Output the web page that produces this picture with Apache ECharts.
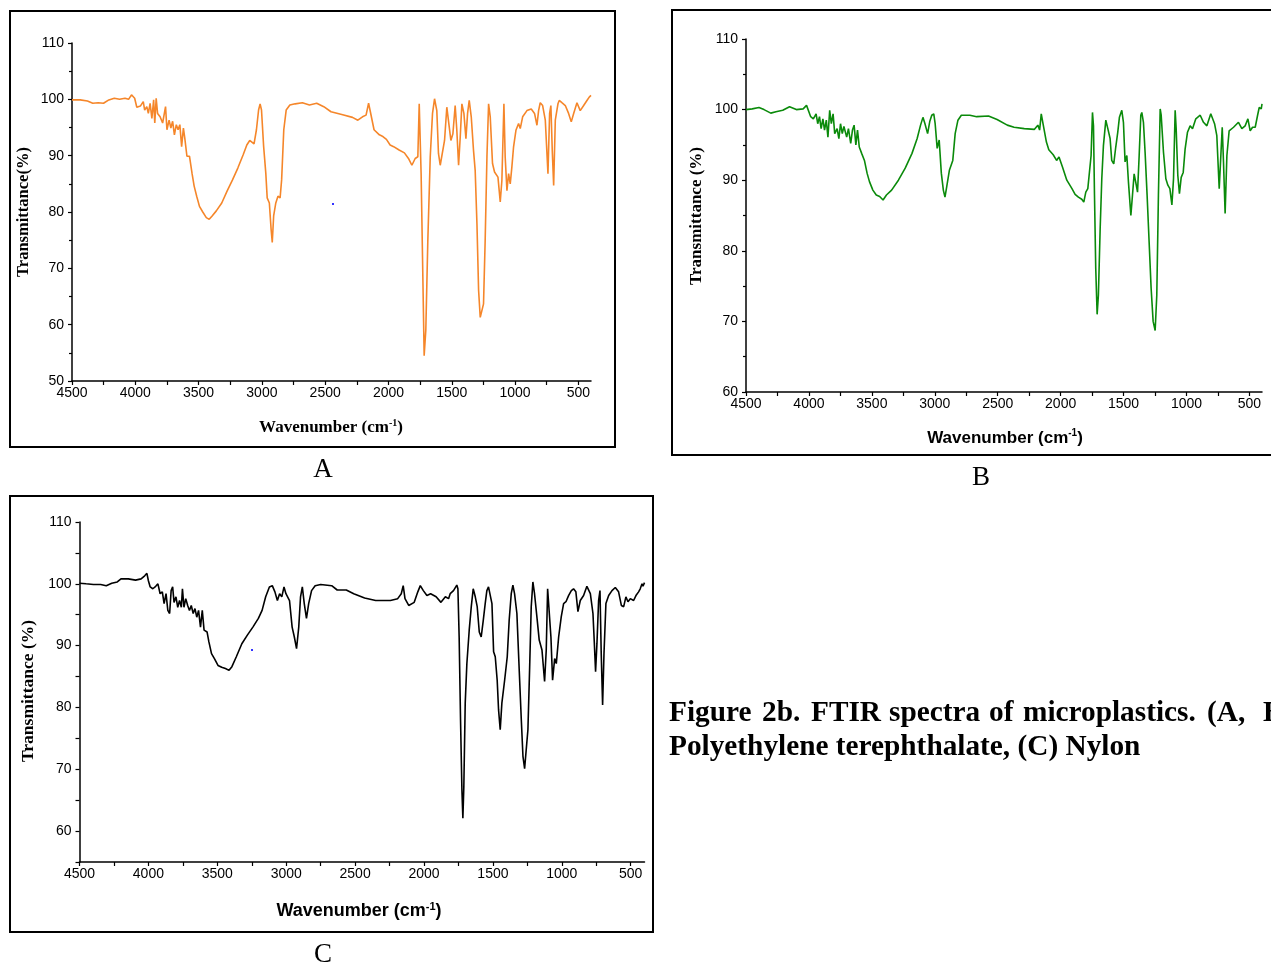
<!DOCTYPE html>
<html>
<head>
<meta charset="utf-8">
<script src="https://cdn.jsdelivr.net/npm/echarts@6/dist/echarts.min.js"></script>
<style>
html,body{margin:0;padding:0;background:#fff;}
#chart{width:1271px;height:967px;}
</style>
</head>
<body>
<div id="chart"></div>
<script>
// ---- Data ----
const wnA = [4500,4435,4378,4336,4293,4251,4209,4166,4124,4081,4053,4030,4016,4005,3988,3960,3937,3926,3909,3897,3883,3869,3855,3846,3835,3824,3804,3784,3761,3750,3733,3719,3705,3691,3676,3662,3648,3634,3620,3609,3592,3572,3552,3535,3515,3493,3467,3439,3416,3393,3360,3317,3275,3232,3190,3147,3119,3096,3062,3043,3026,3014,3003,2986,2969,2958,2941,2927,2918,2907,2890,2873,2856,2844,2827,2808,2779,2737,2680,2624,2567,2511,2454,2369,2284,2242,2205,2177,2157,2143,2114,2072,2044,2016,1987,1959,1916,1874,1842,1815,1789,1768,1757,1749,1742,1731,1718,1705,1689,1670,1652,1636,1618,1605,1591,1578,1557,1539,1525,1507,1491,1473,1460,1446,1433,1420,1404,1388,1375,1362,1346,1328,1315,1301,1288,1275,1262,1249,1236,1222,1209,1196,1178,1162,1149,1135,1117,1104,1088,1078,1064,1051,1038,1025,1012,993,972,959,940,906,872,846,827,814,801,782,761,740,727,717,706,695,682,661,651,630,603,577,556,537,511,485,458,432,414,400];
const tA = [99.9,99.9,99.7,99.3,99.4,99.3,99.9,100.2,100,100.2,100,100.8,101.1,100.2,98.6,98.8,99.6,98.1,98.7,97.5,99.3,96.6,99.9,95.8,100.2,97.5,96.9,95.8,98.7,94.6,96.3,94.9,96.1,93.7,95.5,94.6,95.5,91.6,94.9,93.1,89.9,89.9,86.9,84.6,82.8,81,80,79,78.7,79.3,80.2,81.6,83.7,85.7,87.8,90.2,91.9,92.7,92.1,94.6,98.1,99.2,98.1,91.6,86.9,82.5,81.6,76.9,74.6,79.3,81.6,82.8,82.5,85.7,94.6,98.1,99,99.2,99.4,99,99.3,98.7,97.8,97.3,96.8,96.3,96.9,97.2,99.3,97.8,94.6,93.7,93.4,92.9,91.9,91.6,91,90.5,89.5,88.3,89.5,89.8,99.2,99.5,86.8,72,54.5,59,75,89.8,97.5,100.1,98,90.4,88.3,88.3,92.7,98.6,98.9,92.7,93.9,98.9,94.5,88.3,93.3,99.2,97.5,93,97.5,99.8,96.9,90.9,87.4,77.9,66.1,61.3,61,63.7,75,89.8,99.2,96.9,88.6,87.1,87.4,86.2,81.8,85.6,99.2,89.8,83.8,86.8,85,88,91.5,94.5,95.7,94.8,96.9,98,98.3,97.5,95.4,98,99.4,98.9,96.3,86.8,97.5,98.9,90.9,84.7,96.3,99.2,99.8,99.4,98.9,97.5,96,97.5,99.4,98,98.9,99.8,100.4,100.7];

const wnB = [4500,4451,4397,4357,4303,4262,4208,4154,4100,4046,4019,4005,3986,3965,3943,3930,3916,3903,3889,3876,3862,3849,3835,3822,3808,3795,3776,3762,3749,3735,3722,3700,3686,3668,3654,3641,3627,3614,3600,3581,3559,3538,3519,3492,3465,3438,3411,3384,3343,3289,3235,3181,3140,3113,3094,3078,3057,3040,3024,3008,2997,2981,2965,2948,2932,2919,2905,2884,2857,2838,2816,2789,2721,2667,2573,2505,2424,2370,2289,2208,2181,2167,2154,2140,2113,2094,2059,2032,2013,1986,1951,1910,1885,1859,1832,1816,1800,1784,1774,1758,1747,1739,1731,1721,1710,1700,1686,1673,1660,1641,1625,1607,1594,1578,1562,1546,1533,1514,1501,1488,1474,1461,1442,1429,1416,1403,1389,1376,1363,1355,1342,1329,1313,1297,1281,1265,1249,1236,1223,1209,1201,1183,1164,1148,1132,1116,1103,1090,1082,1069,1056,1042,1026,1011,992,971,952,926,891,865,838,807,777,759,740,727,716,706,693,679,661,626,587,560,534,512,494,475,454,435,422,406,400];
const tB = [100,100.1,100.3,100,99.5,99.7,99.9,100.4,100,100.1,100.6,100.8,99,98.7,99.4,98,99,97.3,98.7,97.1,98.5,96.1,99.9,98,99.4,96.6,97.3,95.9,98,96.6,97.6,96.1,97.3,95.2,97.1,97.8,95,97.1,94.7,93.8,92.8,91,89.8,88.6,87.9,87.7,87.2,87.9,88.6,90,91.7,93.8,95.9,97.8,98.9,98,96.6,98.3,99.2,99.4,98,94.5,95.7,91,88.6,87.6,89.1,91.4,92.8,96.6,98.5,99.2,99.2,99,99.1,98.6,97.8,97.5,97.3,97.2,97.8,97.1,99.4,98,95.4,94.3,93.6,92.8,93.3,91.9,90,88.8,88,87.6,87.3,86.9,88.3,88.8,88.6,93.5,99.6,97.7,87.9,77.5,71,73.7,83.1,90.2,94.9,98.5,97.3,95.9,92.8,92.3,94.7,96.8,98.9,99.9,98.2,92.6,93.5,89.7,85,87.9,90.9,89.7,88.3,93.5,99.2,99.6,98.2,94,87.9,81.3,74.7,70,68.7,73.7,87.9,100.1,99.2,94,90.2,89.3,88.8,86.5,90.2,99.9,97.3,90.7,88.1,90.4,91.1,94.4,96.8,97.7,97.3,98.7,99.2,98.2,97.7,99.4,98,96.3,88.8,93.5,97.5,92.6,85.3,93.5,97,97.5,98.2,97.3,97.7,98.7,97,97.5,97.5,99.2,100.3,100.1,100.8];

const wnC = [4500,4452,4399,4346,4306,4266,4226,4199,4146,4093,4053,4027,4011,4000,3987,3968,3947,3931,3915,3899,3886,3872,3859,3846,3835,3824,3814,3800,3787,3774,3761,3753,3742,3729,3715,3702,3689,3675,3662,3649,3636,3622,3609,3596,3574,3561,3542,3521,3495,3468,3441,3415,3394,3362,3322,3282,3242,3202,3175,3149,3122,3101,3082,3064,3048,3032,3016,3002,2976,2957,2941,2925,2909,2896,2883,2869,2853,2837,2816,2790,2750,2670,2630,2564,2510,2431,2351,2244,2191,2165,2151,2138,2111,2071,2045,2027,2005,1979,1952,1912,1877,1845,1822,1810,1798,1786,1774,1762,1754,1745,1735,1725,1718,1711,1701,1689,1672,1657,1643,1628,1614,1599,1585,1570,1556,1544,1532,1519,1507,1495,1483,1469,1459,1447,1435,1415,1396,1382,1367,1355,1343,1326,1309,1294,1282,1270,1256,1246,1234,1222,1210,1198,1181,1164,1144,1125,1113,1103,1091,1079,1067,1052,1040,1023,1004,987,970,951,931,915,898,883,866,842,818,793,774,764,755,745,733,723,714,704,694,680,660,636,612,588,568,551,535,520,503,479,462,443,431,418,411,400];
const tC = [100.1,100,99.9,99.9,99.7,100.1,100.3,100.8,100.8,100.6,100.8,101.3,101.7,100.5,99.5,99.2,99.6,100,98.4,98.7,96.8,98.4,95.7,95.2,98.9,99.5,97,97.9,96.2,97.3,96.2,99.2,96.2,97.6,96.5,95.7,96.5,95.2,96,94.6,95.7,93,95.7,92.5,92.2,90.6,88.7,87.9,86.8,86.5,86.3,86,86.6,88.2,90.3,91.7,93,94.4,95.7,97.9,99.5,99.7,98.7,97.3,98.4,97.9,99.5,98.4,97.3,93,91.4,89.5,93,97.9,99.5,96.8,94.4,96.8,98.9,99.7,99.9,99.7,99,99,98.4,97.7,97.3,97.3,97.6,98.4,99.7,97.6,96.5,97,98.7,99.7,98.9,98.1,98.4,97.9,97,97.9,97.6,98.4,98.1,98.9,99.2,99.8,99.2,91.4,78,66.7,62.1,67.2,80.7,87.1,92.5,96.3,99.2,97.9,96.3,92.2,91.4,94.1,96.8,98.9,99.5,99.8,96.8,89,88.2,84.4,79.6,76.4,80.7,84.4,88.2,94.1,98.4,99.8,98.4,95.2,86,78,72.1,70.1,70.2,76.4,86,96.3,100.3,98.4,94.7,90.9,89.3,84.2,89.3,99.2,98.9,91.4,84.4,87.9,87.1,91.4,94.7,96.8,97.1,98.1,98.9,99.2,98.7,95.5,97.3,98.1,99.6,98.4,95.2,90.4,85.8,90.4,97.3,98.9,88.7,80.4,88.7,96.8,98.1,98.9,99.4,98.7,96.5,96.3,97.9,97.1,97.6,97.3,98.1,98.7,99.2,100,99.6,100.2];

const xLabelValues = [4500,4000,3500,3000,2500,2000,1500,1000,500];
const xTickValues = [4500,4250,4000,3750,3500,3250,3000,2750,2500,2250,2000,1750,1500,1250,1000,750,500];
const yLabelsC = [60,70,80,90,100,110];
const yTicksC = [55,60,65,70,75,80,85,90,95,100,105,110];

const panelLabels = ['A','B','C'];
const yTitles = ['Transmittance(%)','Transmittance (%)','Transmittance (%)'];
const xTitle = ['Wavenumber (cm', '-1', ')'];
const captionLine1 = ['Figure','2b.','FTIR','spectra','of','microplastics.','(A,','B)'];
const captionLine2 = 'Polyethylene terephthalate, (C) Nylon';

const zip = (a, b) => a.map((v, i) => [v, b[i]]);

// ---- Chart ----
const chart = echarts.init(document.getElementById('chart'), null, {renderer: 'canvas'});
const SANS = '"Liberation Sans", Arial, sans-serif';
const SERIF = '"Liberation Serif", "Times New Roman", serif';
const plainNum = v => String(v);

function xAxisCfg(gi) {
  return {
    type: 'value', gridIndex: gi, min: 400, max: 4500, inverse: true,
    axisLine: {show: true, onZero: false, lineStyle: {color: '#000', width: 1.5}},
    axisTick: {show: true, customValues: xTickValues, length: 4, lineStyle: {color: '#000', width: 1.2}},
    axisLabel: {customValues: xLabelValues, formatter: plainNum, color: '#000', fontSize: 14, fontFamily: SANS, margin: 5},
    splitLine: {show: false}
  };
}
function yAxisCfg(gi, min) {
  const base = {
    type: 'value', gridIndex: gi, min: min, max: 110,
    axisLine: {show: true, onZero: false, lineStyle: {color: '#000', width: 1.5}},
    axisTick: {show: true, length: 4, lineStyle: {color: '#000', width: 1.2}},
    axisLabel: {formatter: plainNum, color: '#000', fontSize: 14, fontFamily: SANS, margin: 8},
    splitLine: {show: false}
  };
  if (min % 10 === 0) {
    base.interval = 10;
    base.minorTick = {show: true, splitNumber: 2, length: 3, lineStyle: {color: '#000', width: 1.2}};
  } else {
    base.axisTick.customValues = yTicksC;
    base.axisLabel.customValues = yLabelsC;
  }
  return base;
}

function xTitleRich(x, y, family, size) {
  return {
    type: 'text', x: x, y: y,
    style: {
      text: '{a|' + xTitle[0] + '}{s|' + xTitle[1] + '}{a|' + xTitle[2] + '}',
      align: 'center', verticalAlign: 'middle',
      rich: {
        a: {fontFamily: family, fontWeight: 'bold', fontSize: size, fill: '#000', lineHeight: size + 2},
        s: {fontFamily: family, fontWeight: 'bold', fontSize: Math.round(size * 0.6), fill: '#000', verticalAlign: 'top', lineHeight: size + 2}
      }
    }
  };
}
function yTitle(x, y, text, size) {
  return {
    type: 'text', x: x, y: y, rotation: Math.PI / 2,
    style: {text: text, fontFamily: SERIF, fontWeight: 'bold', fontSize: size, fill: '#000', align: 'center', verticalAlign: 'middle'}
  };
}
function frame(x1, y1, x2, y2) {
  return {type: 'rect', shape: {x: x1, y: y1, width: x2 - x1, height: y2 - y1},
    style: {fill: 'none', stroke: '#000', lineWidth: 2}, z: 0};
}
function plain(x, y, text, size, weight, align) {
  return {type: 'text', x: x, y: y,
    style: {text: text, fontFamily: SERIF, fontWeight: weight, fontSize: size, fill: '#000', align: align, verticalAlign: 'middle'}};
}

const line1X = [669, 762, 811, 889, 989, 1023, 1207, 1263];
const graphics = [
  frame(10, 11, 615, 447),
  frame(672, 10, 1300, 455),
  frame(10, 496, 653, 932),
  yTitle(24, 212, yTitles[0], 16.5),
  yTitle(697, 216, yTitles[1], 17),
  yTitle(28, 691, yTitles[2], 17.5),
  xTitleRich(331, 428, SERIF, 17),
  xTitleRich(1005, 438, SANS, 17),
  xTitleRich(359, 911, SANS, 18),
  plain(323, 470, panelLabels[0], 27, 'normal', 'center'),
  plain(981, 478, panelLabels[1], 27, 'normal', 'center'),
  plain(323, 955, panelLabels[2], 27, 'normal', 'center'),
  plain(669, 747, captionLine2, 29.3, 'bold', 'left'),
  {type: 'rect', shape: {x: 332, y: 203, width: 2, height: 2}, style: {fill: '#3333ff'}},
  {type: 'rect', shape: {x: 251, y: 649, width: 2, height: 2}, style: {fill: '#3333ff'}}
];
captionLine1.forEach((w, i) => graphics.push(plain(line1X[i], 713, w, 29.3, 'bold', 'left')));

const option = {
  backgroundColor: '#fff',
  animation: false,
  grid: [
    {left: 72, top: 43, width: 519, height: 338},
    {left: 746, top: 39, width: 516, height: 353},
    {left: 79.5, top: 522, width: 565, height: 340}
  ],
  xAxis: [xAxisCfg(0), xAxisCfg(1), xAxisCfg(2)],
  yAxis: [yAxisCfg(0, 50), yAxisCfg(1, 60), yAxisCfg(2, 55)],
  series: [
    {type: 'line', xAxisIndex: 0, yAxisIndex: 0, data: zip(wnA, tA), showSymbol: false, lineStyle: {color: '#F5862A', width: 1.6}, itemStyle: {color: '#F5862A'}},
    {type: 'line', xAxisIndex: 1, yAxisIndex: 1, data: zip(wnB, tB), showSymbol: false, lineStyle: {color: '#0A8A0A', width: 1.6}, itemStyle: {color: '#0A8A0A'}},
    {type: 'line', xAxisIndex: 2, yAxisIndex: 2, data: zip(wnC, tC), showSymbol: false, lineStyle: {color: '#000', width: 1.6}, itemStyle: {color: '#000'}}
  ],
  graphic: graphics
};
chart.setOption(option);
</script>
</body>
</html>
